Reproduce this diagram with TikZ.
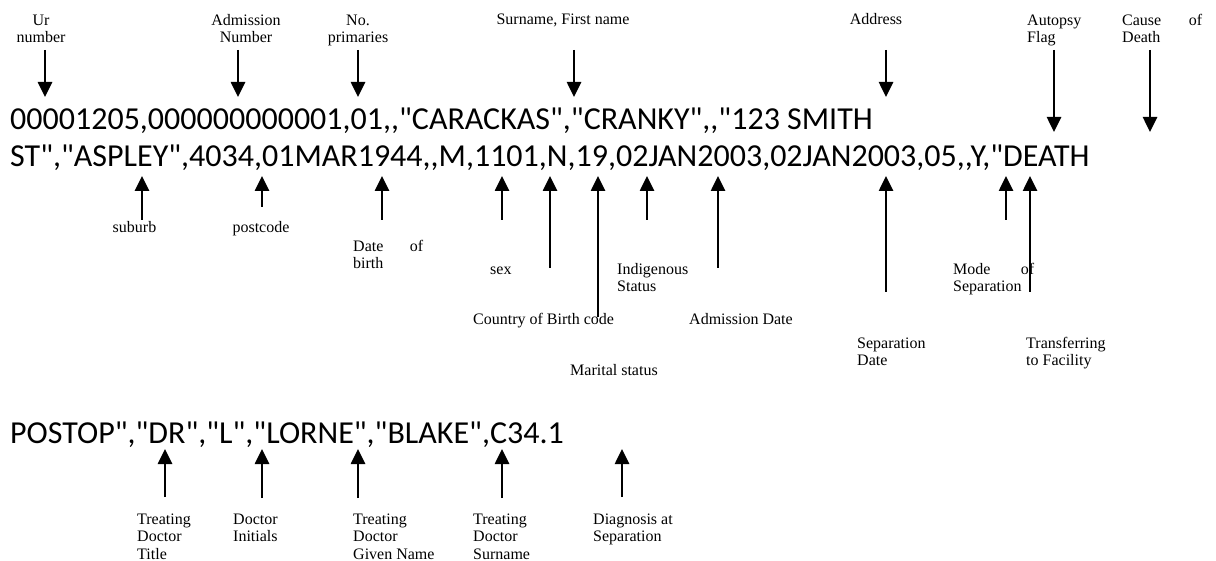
\documentclass[tikz,border=0pt]{standalone}
\usepackage{fontspec}
\setmainfont{Liberation Serif}
\newfontfamily\datafont[Ligatures=TeXOff]{Carlito}
\usetikzlibrary{arrows.meta}
\begin{document}
\begin{tikzpicture}[x=1pt,y=1pt]
\tikzset{
  arr/.style={line width=2.6pt, -{Triangle[length=15pt,width=14pt]}},
  data/.style={font=\datafont\fontsize{32}{37}\selectfont, inner sep=0pt, anchor=base west},
  lbl/.style={font=\fontsize{16}{17.5}\selectfont, inner sep=0pt, align=left, anchor=base west},
  lblc/.style={lbl, align=center, anchor=base},
}
\useasboundingbox[fill=white] (0,0) rectangle (1216,-561);

% data lines
\node[data] (l1) at (10,-130) {00001205,000000000001,01,,"CARACKAS","CRANKY",,"123 SMITH};
\node[data] (l2) at (10,-167) {ST","ASPLEY",4034,01MAR1944,,M,1101,N,19,02JAN2003,02JAN2003,05,,Y,"DEATH};
\node[data] (l3) at (10,-443) {POSTOP","DR","L","LORNE","BLAKE",C34.1};

% top labels (anchor = baseline of last line)
\node[lblc] (ur) at (41,-43) {Ur\\number};
\node[lblc] (adm) at (246,-43) {Admission\\Number};
\node[lblc] (nop) at (358,-43) {No.\\primaries};
\node[lblc] (sur) at (563,-25) {Surname, First name};
\node[lblc] (addr) at (876,-25) {Address};
\node[lbl] (aut) at (1027,-43) {Autopsy\\Flag};
\node[lbl] (cod) at (1122,-43) {\makebox[80pt][s]{Cause of}\\Death};

% labels under line 2
\node[lblc] (sub) at (134.5,-233) {suburb};
\node[lblc] (pc) at (261,-233) {postcode};
\node[lbl] (dob) at (353,-269) {\makebox[70pt][s]{Date of}\\birth};
\node[lbl] (sex) at (490,-275) {sex};
\node[lbl] (cob) at (473,-325) {Country of Birth code};
\node[lbl] (mar) at (570,-375) {Marital status};
\node[lbl] (ind) at (617,-292) {Indigenous\\Status};
\node[lbl] (admd) at (689,-325) {Admission Date};
\node[lbl] (sepd) at (857,-366) {Separation\\Date};
\node[lbl] (mode) at (953,-292) {\makebox[81pt][s]{Mode of}\\Separation};
\node[lbl] (trf) at (1026,-366) {Transferring\\to Facility};

% labels under line 3
\node[lbl] (tdt) at (137,-559) {Treating\\Doctor\\Title};
\node[lbl] (di) at (233,-541.5) {Doctor\\Initials};
\node[lbl] (tdg) at (353,-559) {Treating\\Doctor\\Given Name};
\node[lbl] (tds) at (473,-559) {Treating\\Doctor\\Surname};
\node[lbl] (dx) at (593,-541.5) {Diagnosis at\\Separation};

% arrows: name / x / tail y / tip y
\foreach \n/\x/\ya/\yb in {
  aur/45/50/97, aadm/238/50/97, anop/358/50/97, asur/574/50/97, aaddr/886/50/97,
  aaut/1054/50/132, acod/1150/50/132,
  asub/142/220/176, apc/262/207/176, adob/382/220/176, asex/502/220/176,
  acob/550/268/176, amar/598/317/176, aind/647/220/176, aadmd/718/268/176,
  asepd/886/292/176, amode/1006/220/176, atrf/1030/292/176,
  atdt/165/497/449, adi/262/498/449, atdg/358/498/449, atds/502/498/449, adx/622/497/449}
{
  \coordinate (\n-s) at (\x,-\ya);
  \coordinate (\n-e) at (\x,-\yb);
  \draw[arr] (\n-s) -- (\n-e);
}
\end{tikzpicture}
\end{document}
